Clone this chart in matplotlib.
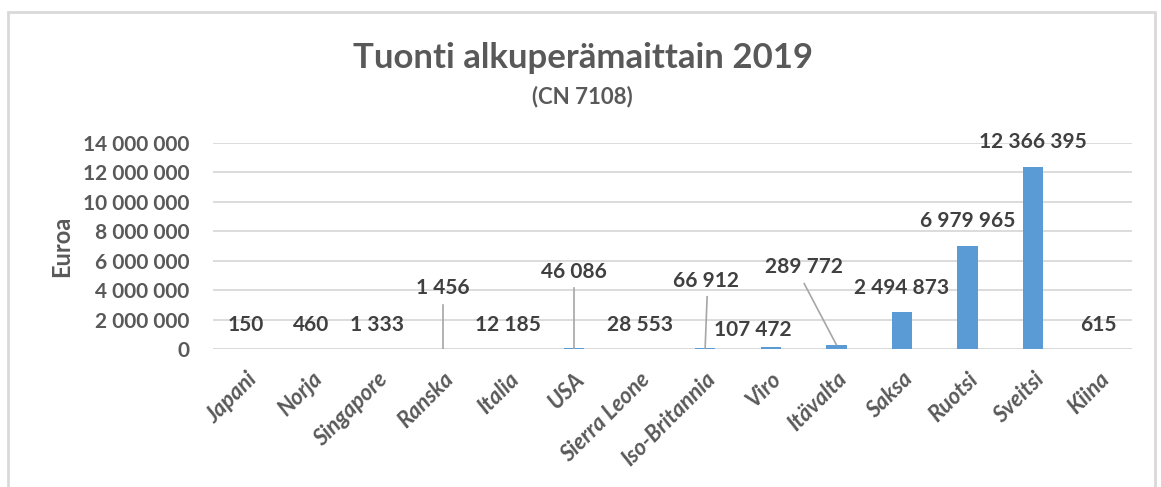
import matplotlib
matplotlib.use('Agg')
import matplotlib.pyplot as plt
from matplotlib.patches import Rectangle
from matplotlib.ticker import FuncFormatter

# Tuonti alkuperämaittain 2019 (CN 7108)
maat = ["Japani", "Norja", "Singapore", "Ranska", "Italia", "USA", "Sierra Leone",
        "Iso-Britannia", "Viro", "Itävalta", "Saksa", "Ruotsi", "Sveitsi", "Kiina"]
arvot = [150, 460, 1333, 1456, 12185, 46086, 28553,
         66912, 107472, 289772, 2494873, 6979965, 12366395, 615]

# arvolappujen paikat (siirto kategorioina, korkeus euroina) ja johtoviivan alku
lappu_dx = [0, 0, 0, 0, 0, 0, 0, 0.01, -0.27, -0.49, 0, 0, 0, 0]
lappu_y = [1.64e6, 1.64e6, 1.64e6, 4.16e6, 1.64e6, 5.26e6, 1.64e6,
           4.64e6, 1.30e6, 5.60e6, 4.16e6, 8.67e6, 14.06e6, 1.64e6]
johto_y = [None, None, None, 3.0e6, None, 4.16e6, None,
           3.55e6, None, 4.44e6, None, None, None, None]

TEKSTI = "#595959"
LAPPU = "#404040"
PALKKI = "#5B9BD5"
RUUDUKKO = "#D9D9D9"
plt.rcParams['font.family'] = ['Lato', 'DejaVu Sans']


def tuhannet(x, pos):
    return f"{int(x):,}".replace(",", " ")


fig = plt.figure(figsize=(11.61, 4.87), dpi=100)
ax = fig.add_axes([0.1835, 0.2834, 0.7912, 0.4230])

x = list(range(len(maat)))
ax.bar(x, arvot, width=0.31, color=PALKKI, zorder=3)

ax.set_xlim(-0.5, len(maat) - 0.5)
ax.set_ylim(0, 14e6)
ax.set_yticks(range(0, 14000001, 2000000))
ax.yaxis.set_major_formatter(FuncFormatter(tuhannet))
ax.grid(axis='y', color=RUUDUKKO, linewidth=1.3, zorder=0)
for s in ax.spines.values():
    s.set_visible(False)
ax.axhline(0, color=RUUDUKKO, linewidth=1.3, zorder=1)
ax.tick_params(axis='y', length=0, pad=17, labelsize=15, labelcolor=TEKSTI)
ax.tick_params(axis='x', length=0, pad=14, labelsize=16, labelcolor=TEKSTI)
for t in ax.get_yticklabels():
    t.set_fontweight('bold')
ax.set_xticks(x)
ax.set_xticklabels(maat, rotation=45, ha='right', rotation_mode='anchor',
                   fontweight='bold', fontstyle='italic')

ax.set_ylabel("Euroa", fontsize=17, fontweight='bold', color=TEKSTI, labelpad=7)

for i, v in enumerate(arvot):
    lx = i + lappu_dx[i]
    ax.text(lx, lappu_y[i], tuhannet(v, None), ha='center', va='center',
            fontsize=15, fontweight='bold', color=LAPPU, zorder=5, clip_on=False)
    if johto_y[i] is not None:
        ax.plot([lx + 0.02 if i == 7 else lx, i], [johto_y[i], v], color="#A6A6A6",
                linewidth=1.2, zorder=4)

fig.text(0.502, 0.881, "Tuonti alkuperämaittain 2019", ha='center', va='center',
         fontsize=25, fontweight='bold', color=TEKSTI)
fig.text(0.502, 0.801, "(CN 7108)", ha='center', va='center',
         fontsize=16, fontweight='bold', color=TEKSTI)

# kaavion kehys
fig.patches.append(Rectangle((8 / 1161, -0.05), 1147 / 1161, 1.05 - 12 / 487,
                             transform=fig.transFigure, fill=False,
                             edgecolor=RUUDUKKO, linewidth=2))

fig.savefig("out.png", dpi=100)
